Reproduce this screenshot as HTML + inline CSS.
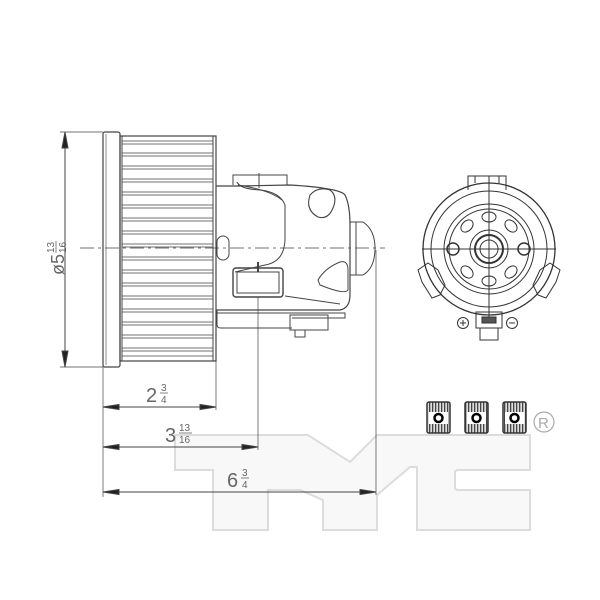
<!DOCTYPE html>
<html><head><meta charset="utf-8"><style>
html,body{margin:0;padding:0;background:#fff;}
svg{display:block;}
text{font-family:"Liberation Sans",sans-serif;fill:#666;}
</style></head><body>
<svg width="600" height="600" viewBox="0 0 600 600" xmlns="http://www.w3.org/2000/svg">
<defs>
<pattern id="st" width="3" height="4" patternUnits="userSpaceOnUse">
<rect width="3" height="4" fill="#ddd"/><rect width="1.3" height="4" fill="#444"/>
</pattern>
</defs>
<!-- watermark -->
<path d="M175,435 H308 L350,462 L377,435 H530 V470 H458 Q455,470 455,473 V487 Q455,490 458,490 H530 V530 H417 V467 H410 L377,495 V530 H323 V500 L300,490 H268 V530 H213 V470 H175 Z" fill="#f8f8f8" stroke="#dcdcdc" stroke-width="2"/>

<g stroke="#444" fill="none" stroke-width="1">
<line x1="65" y1="132" x2="65" y2="367"/>
<line x1="60" y1="132" x2="103" y2="132" stroke-width="0.7"/>
<line x1="60" y1="367" x2="103" y2="367" stroke-width="0.7"/>
<path d="M65,132 L62,148 L68,148 Z M65,367 L62,351 L68,351 Z" fill="#222"/>
<line x1="80" y1="248" x2="385" y2="248" stroke-dasharray="14,4,3,4" stroke-width="0.7"/>
<rect x="103" y="132" width="17" height="235" rx="2" stroke-width="1.2"/>
<line x1="106" y1="134" x2="106" y2="365" stroke-width="0.6"/>
<rect x="120" y="136" width="96" height="225" stroke-width="1.2"/>
<line x1="122" y1="136" x2="122" y2="361"/>
<line x1="213" y1="136" x2="213" y2="361"/>
<g stroke-width="0.8">
<path d="M122,141H213M122,144H213M122,153H213M122,156H213M122,166H213M122,169H213M122,179H213M122,182H213M122,192H213M122,195H213M122,205H213M122,208H213M122,218H213M122,221H213M122,231H213M122,234H213M122,244H213M122,247H213M122,257H213M122,260H213M122,270H213M122,273H213M122,283H213M122,286H213M122,296H213M122,299H213M122,309H213M122,312H213M122,322H213M122,325H213M122,335H213M122,338H213M122,348H213M122,351H213M122,356H213"/>
</g>
<path d="M216,186 L238,186 L290,185 Q340,188 345,195 Q350,205 350,225 L350,295 Q350,308 340,310 L216,310" stroke-width="1.2"/>
<path d="M233,185 V175 H287 V185 M237,182 Q240,189 260,190 Q280,192 285,205 L285,240 Q284,262 265,265 L235,272" stroke-width="1"/>
<line x1="259" y1="173" x2="259" y2="188"/>
<path d="M238,185 Q270,190 282,200"/>
<path d="M310,195 Q318,186 330,190 Q338,196 333,208 Q328,220 318,217 Q305,210 310,195 Z" stroke-width="1.1"/>
<rect x="217" y="236" width="12" height="24" rx="6"/>
<rect x="233" y="268" width="50" height="29" rx="3" stroke-width="1.4"/>
<rect x="237" y="272" width="42" height="21"/>
<line x1="258" y1="262" x2="258" y2="272" stroke-width="2"/>
<path d="M285,296 L340,304"/>
<path d="M318,280 Q325,268 340,262 Q348,260 348,270 L348,290 Q345,295 320,285 Z"/>
<path d="M350,222 L363,222 Q375,230 375,248 Q375,268 363,275 L350,275"/>
<line x1="356" y1="222" x2="356" y2="275"/>
<path d="M217,310 V325 Q217,328 221,328 H292 M217,313 H345 V318 H292"/>
<rect x="290" y="315" width="38" height="15"/>
<path d="M295,330 V337 H305 V330"/>
<line x1="103" y1="367" x2="103" y2="497" stroke-width="0.7"/>
<line x1="216" y1="361" x2="216" y2="410" stroke-width="0.7"/>
<line x1="258" y1="297" x2="258" y2="450" stroke-width="0.7"/>
<line x1="376" y1="250" x2="376" y2="495" stroke-width="0.7"/>
<line x1="103" y1="407" x2="216" y2="407"/>
<line x1="103" y1="447" x2="258" y2="447"/>
<line x1="103" y1="492" x2="376" y2="492"/>
<path d="M103,407 L119,404.5 L119,409.5Z M216,407 L200,404.5 L200,409.5Z M103,447 L119,444.5 L119,449.5Z M258,447 L242,444.5 L242,449.5Z M103,492 L119,489.5 L119,494.5Z M376,492 L360,489.5 L360,494.5Z" fill="#222"/>
</g>
<text x="146" y="402" font-size="20">2</text><text x="161" y="391" font-size="10">3</text><line x1="160" y1="393" x2="168" y2="393" stroke="#666" stroke-width="0.8"/><text x="161" y="403" font-size="10">4</text>
<text x="165" y="442" font-size="20">3</text><text x="179" y="431" font-size="10">13</text><line x1="179" y1="433" x2="192" y2="433" stroke="#666" stroke-width="0.8"/><text x="179" y="443" font-size="10">16</text>
<text x="227" y="487" font-size="20">6</text><text x="242" y="476" font-size="10">3</text><line x1="241" y1="478" x2="249" y2="478" stroke="#666" stroke-width="0.8"/><text x="242" y="488" font-size="10">4</text>
<g transform="translate(64,275) rotate(-90)">
<text x="0" y="0" font-size="18">ø5</text><text x="22" y="-10" font-size="10">13</text><line x1="22" y1="-8" x2="34" y2="-8" stroke="#666" stroke-width="0.8"/><text x="22" y="2" font-size="10">16</text>
</g>

<g stroke="#333" fill="none" stroke-width="1">
<circle cx="489" cy="249" r="66" stroke-width="1.3"/>
<circle cx="489" cy="249" r="58"/>
<circle cx="489" cy="249" r="45"/>
<circle cx="489" cy="249" r="40"/>
<circle cx="489" cy="249" r="19"/>
<circle cx="489" cy="249" r="14" stroke-width="2"/>
<circle cx="489" cy="249" r="9"/>
<line x1="422" y1="249" x2="556" y2="249"/>
<line x1="489" y1="176" x2="489" y2="318"/>
<g>
<ellipse cx="489" cy="217" rx="7" ry="5"/><ellipse cx="489" cy="281" rx="7" ry="5"/>
<ellipse cx="467" cy="226" rx="7" ry="5" transform="rotate(-45 467 226)"/><ellipse cx="511" cy="226" rx="7" ry="5" transform="rotate(45 511 226)"/>
<ellipse cx="467" cy="272" rx="7" ry="5" transform="rotate(45 467 272)"/><ellipse cx="511" cy="272" rx="7" ry="5" transform="rotate(-45 511 272)"/>
</g>
<circle cx="453" cy="249" r="6" stroke-width="1.5"/>
<circle cx="524" cy="249" r="6" stroke-width="1.5"/>
<path d="M468,190 V176 H506 V190 M475,176 V183 M499,176 V183"/>
<path d="M428,263 L418,270 L422,282 L432,298 L440,295 L445,285 L438,270 Z"/>
<path d="M550,263 L560,270 L556,282 L546,298 L538,295 L533,285 L540,270 Z"/>
<rect x="476" y="312" width="26" height="16"/>
<rect x="480" y="328" width="18" height="12"/>
<rect x="482" y="317" width="14" height="6" fill="#555"/>
<circle cx="463" cy="323" r="5.5"/><path d="M460,323H466M463,320V326"/>
<circle cx="512" cy="323" r="5.5"/><path d="M509,323H515"/>
</g>
<g>
<rect x="427" y="402" width="23" height="31" rx="2" fill="url(#st)" stroke="#333" stroke-width="1.5"/>
<rect x="465" y="402" width="23" height="31" rx="2" fill="url(#st)" stroke="#333" stroke-width="1.5"/>
<rect x="503" y="402" width="23" height="31" rx="2" fill="url(#st)" stroke="#333" stroke-width="1.5"/>
<rect x="429" y="412" width="19" height="12" fill="#fff"/>
<rect x="467" y="412" width="19" height="12" fill="#fff"/>
<rect x="505" y="412" width="19" height="12" fill="#fff"/>
<circle cx="438.5" cy="418" r="4" fill="none" stroke="#000" stroke-width="2.5"/>
<circle cx="476.5" cy="418" r="4" fill="none" stroke="#000" stroke-width="2.5"/>
<circle cx="514.5" cy="418" r="4" fill="none" stroke="#000" stroke-width="2.5"/>
</g>
<circle cx="544" cy="422" r="10" fill="none" stroke="#aaa" stroke-width="1.2"/>
<text x="538" y="428" font-size="15" style="fill:#aaa">R</text>
</svg>
</body></html>
